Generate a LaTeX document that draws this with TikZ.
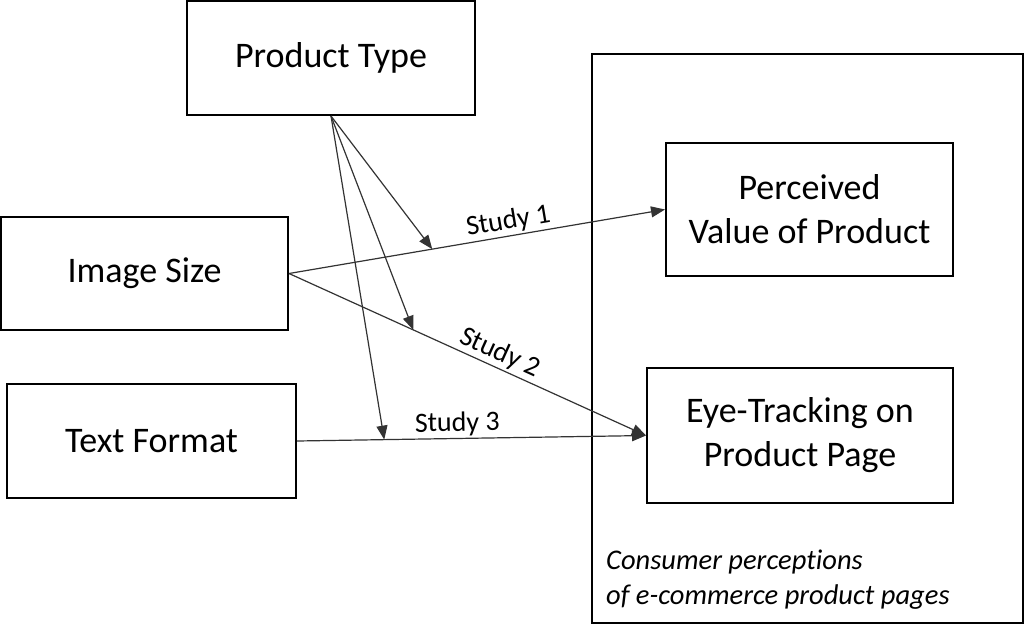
\documentclass[tikz,border=0pt]{standalone}
\usepackage{fontspec}
\setmainfont{Carlito}[Ligatures=NoCommon]
\usetikzlibrary{arrows.meta}
\begin{document}
\begin{tikzpicture}[x=1pt,y=-1pt,
  box/.style={draw,line width=2pt,inner sep=0pt,align=center,font=\fontsize{36}{44}\selectfont},
  conn/.style={line width=1.2pt,draw=black!80,-{Triangle[length=14pt,width=11pt]}},
  lab/.style={font=\fontsize{28}{30}\selectfont,sloped,above,inner sep=2pt}]
\useasboundingbox (0,0) rectangle (1024,632);
\node[draw,line width=2pt,minimum width=431pt,minimum height=569pt] (C) at (807.5,338.5) {};
\node[box,minimum width=288pt,minimum height=114pt] (PT) at (331,58) {Product Type};
\node[box,minimum width=287pt,minimum height=113pt] (IS) at (144.5,273.5) {Image Size};
\node[box,minimum width=289pt,minimum height=114pt] (TF) at (151.5,441) {Text Format};
\node[box,minimum width=287pt,minimum height=133pt] (PV) at (809.5,209.5) {Perceived\\Value of Product};
\node[box,minimum width=306pt,minimum height=135pt] (ET) at (800,435.5) {Eye-Tracking on\\Product Page};
\node[anchor=west,align=left,inner sep=0pt,font=\fontsize{28.5}{35}\selectfont\itshape] (CP) at (606,580) {Consumer perceptions\\of e-commerce product pages};
\draw[conn] (IS.east) -- (PV.west)
  coordinate[pos=0.381] (s1) node[lab,pos=0.59] {Study 1};
\draw[conn] (IS.east) -- (ET.west)
  coordinate[pos=0.348] (s2) node[lab,pos=0.574] {Study 2};
\draw[conn] (TF.east) -- (ET.west)
  coordinate[pos=0.25] (s3) node[lab,pos=0.46] {Study 3};
\draw[conn] (PT.south) -- (s1);
\draw[conn] (PT.south) -- (s2);
\draw[conn] (PT.south) -- (s3);
\end{tikzpicture}
\end{document}
